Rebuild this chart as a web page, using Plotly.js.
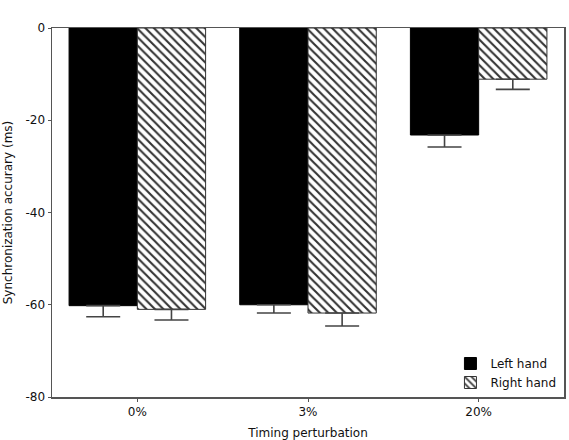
<!DOCTYPE html>
<html>
<head>
<meta charset="utf-8">
<script src="https://cdn.plot.ly/plotly-3.0.1.min.js"></script>
<style>html,body{margin:0;padding:0;background:#fff;}</style>
</head>
<body>
<div id="chart" style="width:569px;height:440px;"></div>
<script>
const categories = ["0%", "3%", "20%"];
const leftHand = [-60.2, -60.0, -23.2];
const leftErr = [2.4, 1.8, 2.6];
const rightHand = [-61.0, -61.8, -11.1];
const rightErr = [2.3, 2.8, 2.2];
const yTicks = [0, -20, -40, -60, -80];

const errStyle = {color: "#444", thickness: 1.6, width: 17};

const traces = [
  {
    type: "bar", name: "Left hand", x: categories, y: leftHand,
    marker: {color: "#000", line: {color: "#000", width: 1}},
    error_y: Object.assign({type: "data", symmetric: false, array: [0,0,0], arrayminus: leftErr}, errStyle)
  },
  {
    type: "bar", name: "Right hand", x: categories, y: rightHand,
    marker: {color: "#fff", line: {color: "#333", width: 1},
      pattern: {shape: "\\", fgcolor: "#333", bgcolor: "#fff", size: 6, solidity: 0.35}},
    error_y: Object.assign({type: "data", symmetric: false, array: [0,0,0], arrayminus: rightErr}, errStyle)
  }
];

const fnt = "DejaVu Sans, Verdana, sans-serif";
const txt = "#111";
const layout = {
  width: 569, height: 440,
  margin: {l: 52, r: 5, t: 28, b: 43},
  paper_bgcolor: "#fff", plot_bgcolor: "#fff",
  barmode: "group", bargap: 0.2, bargroupgap: 0,
  font: {family: fnt, color: txt, size: 12},
  showlegend: true,
  legend: {x: 0.995, y: 0.0, xanchor: "right", yanchor: "bottom", bgcolor: "rgba(255,255,255,0)",
    font: {family: fnt, size: 12, color: txt}, tracegroupgap: 0, itemwidth: 30},
  xaxis: {
    type: "category", range: [-0.5, 2.5],
    showline: true, linecolor: "#555", linewidth: 1.5, mirror: true,
    ticks: "outside", ticklen: 3, tickcolor: "#555",
    showgrid: false, zeroline: false,
    tickfont: {family: fnt, size: 12, color: txt},
    title: {text: "Timing perturbation", font: {family: fnt, size: 12, color: txt}, standoff: 12}
  },
  yaxis: {
    range: [-80, 0], tickvals: yTicks, ticktext: yTicks.map(String),
    showline: true, linecolor: "#555", linewidth: 1.5, mirror: true,
    ticks: "outside", ticklen: 3, tickcolor: "#555",
    showgrid: false, zeroline: false,
    tickfont: {family: fnt, size: 12, color: txt},
    title: {text: "Synchronization accurary (ms)", font: {family: fnt, size: 12, color: txt}, standoff: 10}
  }
};

Plotly.newPlot("chart", traces, layout, {displayModeBar: false, staticPlot: true});
</script>
</body>
</html>
